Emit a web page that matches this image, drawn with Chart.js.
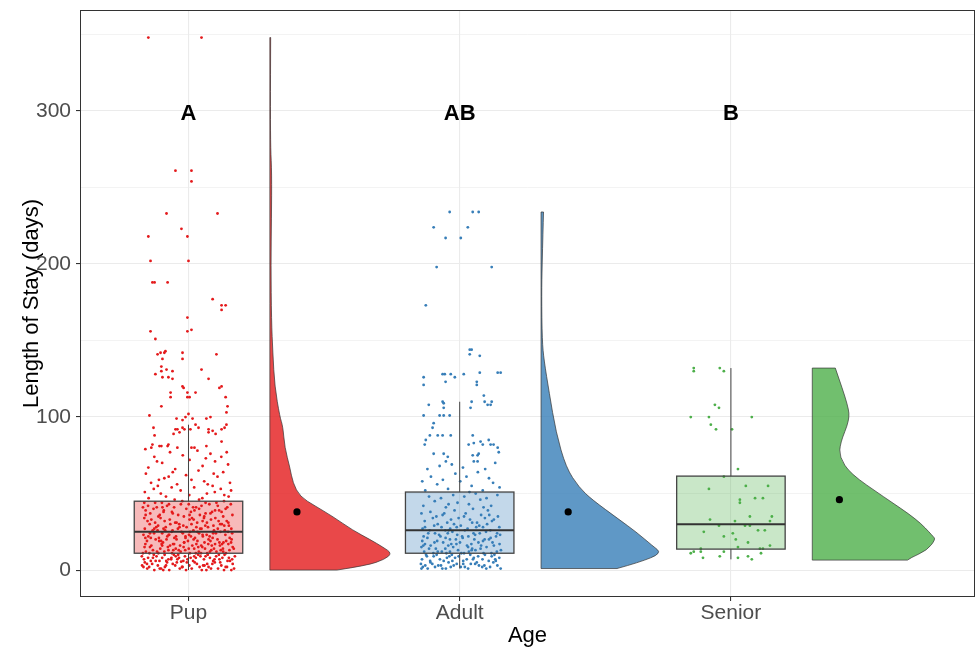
<!DOCTYPE html>
<html>
<head>
<meta charset="utf-8">
<script src="https://cdn.jsdelivr.net/npm/chart.js@4.4.1/dist/chart.umd.min.js"></script>
<style>
html, body { margin: 0; padding: 0; background: #fff; }
canvas { display: block; }
</style>
</head>
<body>
<canvas id="rain" width="977" height="649"></canvas>
<script>
// categories and labels
const AGE_GROUPS = ['Pup', 'Adult', 'Senior'];
const LETTERS = ['A', 'AB', 'B'];
const LETTER_Y = 298;
const Y_TICKS = [0, 50, 100, 150, 200, 250, 300, 350];

// group means (black dots)
const MEANS = [38, 38, 46];

// boxplots: [lower whisker, q1, median, q3, upper whisker]
const pupBox = [0, 11, 25, 45, 95];
const adultBox = [1, 11, 26, 51, 110];
const seniorBox = [7, 13.7, 30, 61.4, 132];

// half violins: value along y and half width (in category units)
const pupViolinY = [0, 3, 7, 11, 15, 20, 26, 35, 42, 48, 57, 67, 80, 94, 100, 120, 142, 163, 200, 230, 260, 275, 300, 348];
const pupViolinW = [0.247, 0.358, 0.424, 0.45, 0.417, 0.369, 0.306, 0.232, 0.166, 0.111, 0.085, 0.074, 0.055, 0.048, 0.037, 0.018, 0.011, 0.006, 0.004, 0.006, 0.007, 0.003, 0.002, 0.003];
const adultViolinY = [1, 5, 11, 16, 25, 33, 46, 54, 67, 90, 116, 137, 150, 180, 200, 220, 234];
const adultViolinW = [0.28, 0.362, 0.446, 0.41, 0.35, 0.288, 0.188, 0.14, 0.092, 0.055, 0.03, 0.011, 0.004, 0.002, 0.004, 0.007, 0.009];
const seniorViolinY = [6.5, 8, 13, 20, 22, 33, 48, 63, 74, 83, 98, 107, 132];
const seniorViolinW = [0.351, 0.362, 0.424, 0.454, 0.446, 0.387, 0.262, 0.14, 0.1, 0.103, 0.137, 0.133, 0.085];

// jittered raw points: [horizontal jitter, days]
const pupPoints = [
  [-0.148,348],[0.048,348],[-0.048,261],[0.011,261],[0.011,254],[-0.081,233],[0.107,233],[-0.026,223],[-0.148,218],[-0.004,218],
  [-0.140,202],[0.000,202],[-0.133,188],[-0.125,188],[-0.077,188],[0.089,177],[0.122,173],[0.137,173],[0.122,170],[-0.004,165],
  [-0.140,156],[-0.004,156],[0.011,157],[-0.122,151],[-0.114,141],[-0.103,142],[-0.089,142],[-0.085,143],[-0.022,142],[0.103,141],
  [-0.022,138],[-0.096,138],[-0.100,133],[-0.081,131],[-0.100,130],[-0.059,130],[-0.122,128],[0.048,131],[-0.096,126],[-0.074,126],
  [-0.059,125],[0.074,125],[-0.022,120],[-0.018,119],[0.114,119],[0.122,120],[-0.066,116],[-0.004,116],[0.026,116],[-0.066,113],
  [-0.004,113],[0.004,113],[0.137,113],[-0.100,107],[0.144,107],[0.140,103],[-0.144,101],[0.000,102],[-0.044,99],[-0.022,98],
  [-0.011,100],[0.015,99],[0.066,99],[0.081,100],[0.140,95],[-0.129,93],[-0.048,92],[-0.041,92],[-0.022,93],[-0.015,92],
  [0.007,92],[0.026,95],[0.037,93],[0.074,92],[0.074,90],[0.089,91],[0.100,89],[0.122,92],[0.133,93],[-0.055,89],
  [-0.033,90],[-0.125,88],[0.122,84],[-0.133,82],[-0.137,80],[-0.107,81],[-0.100,81],[-0.077,81],[-0.074,82],[-0.041,80],
  [0.011,80],[0.022,80],[0.066,81],
  [-0.152,1],[-0.113,3],[-0.071,0],[-0.024,2],[0.031,4],[0.083,1],[0.121,3],[0.158,0],[-0.134,4],[-0.087,2],[-0.043,5],[0.012,1],
  [0.054,3],[0.097,5],[0.142,2],[-0.171,3],[-0.126,0],[-0.058,4],[0.003,3],[0.066,0],[0.109,1],[0.163,4],[-0.145,2],[-0.079,5],
  [-0.009,0],[0.041,2],[0.088,4],[0.131,0],[-0.161,5],[-0.101,1],[-0.049,3],[0.023,5],[0.074,2],[0.168,1],[-0.032,1],[0.117,5],
  [-0.093,0],[0.049,0],
  [-0.164,7],[-0.118,9],[-0.082,6],[-0.035,8],[0.017,6],[0.063,9],[0.114,7],[0.149,8],[-0.139,6],[-0.097,8],[-0.054,10],[-0.004,7],
  [0.044,9],[0.091,6],[0.133,10],[-0.172,9],[-0.107,6],[-0.063,8],[-0.013,9],[0.057,7],[0.102,9],[0.144,6],[-0.128,10],[-0.074,7],
  [-0.019,6],[0.036,10],[0.079,8],[0.161,7],[-0.149,8],[-0.088,10],[-0.041,7],[0.008,8],[0.071,10],[0.125,8],[0.171,9],[-0.027,5.5],
  [-0.157,12],[-0.104,14],[-0.061,11],[-0.012,13],[0.038,12],[0.094,14],[0.138,11],[-0.131,13],[-0.076,15],[-0.029,12],[0.021,14],
  [0.069,11],[0.119,13],[0.163,15],[-0.168,11],[-0.116,12],[-0.047,14],[0.005,11],[0.051,15],[0.103,12],[0.151,13],[-0.142,15],
  [-0.089,12],[-0.018,15],[0.027,11],[0.084,13],[0.127,14],[-0.111,11],[-0.036,13],[0.061,14],
  [-0.159,17],[-0.108,19],[-0.068,16],[-0.016,18],[0.029,17],[0.081,19],[0.116,16],[0.157,18],[-0.137,16],[-0.094,18],[-0.044,20],
  [0.014,16],[0.059,18],[0.107,20],[0.147,17],[-0.121,20],[-0.057,17],[-0.002,19],[0.047,16],[0.098,17],[0.139,19],[-0.153,19],
  [-0.081,20],[-0.031,16],[0.019,20],[0.073,17],[0.129,18],[-0.099,17],
  [-0.148,22],[-0.097,24],[-0.052,21],[0.002,23],[0.053,22],[0.101,24],[0.152,21],[-0.127,24],[-0.078,22],[-0.026,25],[0.024,21],
  [0.067,23],[0.118,25],[-0.166,23],[-0.109,21],[-0.062,25],[-0.011,22],[0.039,24],[0.089,21],[0.136,23],[-0.139,21],[-0.071,23],
  [0.033,25],[0.078,22],[0.161,24],[-0.021,24],
  [-0.161,27],[-0.112,29],[-0.059,26],[-0.007,28],[0.043,27],[0.092,29],[0.134,26],[-0.132,26],[-0.084,28],[-0.034,30],[0.018,26],
  [0.072,28],[0.123,30],[0.158,27],[-0.143,30],[-0.092,27],[-0.039,27],[0.011,30],[0.062,29],[0.108,27],[0.149,29],[-0.119,28],
  [-0.151,32],[-0.103,34],[-0.049,31],[0.004,33],[0.052,32],[0.099,34],[0.147,31],[-0.123,31],[-0.069,33],[-0.017,35],[0.032,31],
  [0.083,33],[0.128,35],[-0.163,34],[-0.088,32],[0.058,35],[0.111,32],[0.013,34],
  [-0.141,37],[-0.091,39],[-0.038,36],[0.009,38],[0.063,37],[0.113,39],[0.162,36],[-0.158,39],[-0.106,36],[-0.061,38],[-0.008,40],
  [0.042,36],[0.087,38],[0.137,40],[-0.129,40],[0.022,39],
  [-0.149,42],[-0.098,44],[-0.053,41],[0.001,43],[0.048,42],[0.103,44],[0.143,41],[-0.117,41],[-0.072,43],[-0.023,45],[0.028,41],
  [0.077,43],[0.131,45],[-0.163,44],
  [-0.147,47],[-0.102,50],[-0.051,46],[0.003,49],[0.051,47],[0.097,51],[0.148,48],[-0.128,53],[-0.083,48],[-0.029,52],[0.021,54],
  [0.068,50],[0.119,53],[-0.161,51],[-0.113,55],[0.039,46],[0.089,55],[0.157,52],[-0.062,54],[0.132,49],
  [-0.138,57],[-0.089,60],[-0.042,56],[0.011,59],[0.058,58],[0.107,61],[0.153,57],[-0.157,63],[-0.109,59],[-0.058,64],[-0.009,62],
  [0.037,65],[0.093,63],[0.128,64],[-0.073,61],[0.071,56],
  [-0.148,67],[-0.097,70],[-0.049,66],[0.004,72],[0.052,68],[0.098,71],[0.146,69],[-0.126,74],[-0.068,77],[-0.021,75],[0.033,78],
  [0.081,76],[0.121,74],[-0.159,79],[-0.116,71],[0.064,73],[0.141,77],
  [-0.166,2],[-0.121,6],[-0.083,3],[-0.047,9],[-0.006,5],[0.027,8],[0.069,4],[0.112,10],[0.153,6],[-0.144,11],[-0.097,16],
  [-0.056,13],[-0.016,18],[0.036,15],[0.079,12],[0.124,17],[0.167,14],[-0.159,21],[-0.114,26],[-0.073,23],[-0.033,28],[0.009,22],
  [0.048,27],[0.091,24],[0.132,29],[-0.137,33],[-0.092,38],[-0.044,31],[0.004,36],[0.057,34],[0.098,39],[0.141,32],[-0.168,41],
  [-0.123,44],[-0.079,42],[-0.028,43],[0.017,41],[0.063,44],[0.108,42],[0.156,43],
  [-0.153,4],[-0.106,1],[-0.064,7],[-0.022,2],[0.021,9],[0.059,3],[0.096,7],[0.137,2],[-0.131,8],[-0.074,13],[-0.038,10],
  [0.001,14],[0.046,11],[0.086,16],[0.128,12],[-0.162,15],[-0.101,19],[-0.053,17],[-0.011,21],[0.033,19],[0.074,20],[0.114,18],
  [0.159,20],[-0.142,24],[-0.086,26],[-0.046,22],[0.006,25],[0.052,23],[0.094,26],[0.146,25],[-0.126,27],[-0.067,30],[-0.019,29],
  [0.029,28],[0.068,31],[0.117,30],[-0.158,36],[-0.111,35],[-0.058,37],[0.019,33],[0.081,37],[0.122,38],[-0.096,41],[0.039,40]
];

const adultPoints = [
  [-0.037,234],[0.048,234],[0.070,234],[-0.096,224],[0.030,224],[-0.052,217],[0.004,217],[-0.085,198],[0.118,198],[-0.125,173],
  [0.037,144],[0.044,144],[0.037,141],[0.074,140],[-0.133,126],[-0.063,128],[-0.055,128],[-0.033,128],[-0.018,126],[0.015,128],
  [0.074,129],[0.140,129],[0.151,129],[-0.133,121],[-0.052,123],[0.063,123],[0.063,121],[0.089,114],[-0.114,108],[-0.063,110],
  [-0.059,109],[0.044,110],[0.092,110],[0.103,108],[0.114,108],[0.118,110],[-0.059,106],[0.040,106],[-0.133,101],[-0.074,101],
  [-0.059,101],[-0.037,101],
  [-0.096,96],[-0.100,93],[-0.081,88],[-0.110,88],[-0.063,88],[-0.033,88],[-0.125,85],[-0.129,82],[-0.096,76],[-0.059,76],
  [-0.044,74],[0.048,88],[0.052,83],[0.077,84],[0.085,82],[0.107,85],[0.114,82],[0.125,82],[0.140,80],[0.144,77],
  [0.070,76],[0.066,75],[0.033,82],[0.048,75],[0.052,71],[0.066,71],
  [-0.136,2],[-0.101,4],[-0.064,1],[-0.022,3],[0.019,2],[0.057,4],[0.098,1],[0.139,3],[-0.118,1],[-0.079,3],[-0.041,5],[0.004,2],
  [0.041,4],[0.083,2],[0.124,5],[-0.143,4],[-0.091,2],[-0.051,1],[-0.011,4],[0.031,1],[0.071,3],[0.112,2],[0.151,1],[-0.127,3],
  [-0.033,2],[0.063,5],
  [-0.139,7],[-0.096,9],[-0.059,6],[-0.017,8],[0.026,7],[0.068,9],[0.107,6],[0.146,8],[-0.121,9],[-0.073,7],[-0.029,10],[0.013,6],
  [0.052,8],[0.093,10],[0.131,7],[-0.109,6],[-0.047,8],[-0.004,9],[0.039,10],[0.084,7],[0.118,9],[-0.085,10],
  [-0.131,12],[-0.088,14],[-0.049,11],[-0.006,13],[0.034,12],[0.077,14],[0.117,11],[0.152,13],[-0.113,14],[-0.066,12],[-0.024,15],
  [0.016,11],[0.058,13],[0.099,15],[0.137,12],[-0.141,15],[-0.036,12],[0.046,14],[-0.097,11],
  [-0.128,17],[-0.083,19],[-0.042,16],[0.001,18],[0.043,17],[0.086,19],[0.126,16],[-0.107,16],[-0.061,18],[-0.014,20],[0.027,16],
  [0.069,18],[0.108,20],[0.147,17],[-0.138,19],[-0.031,17],[0.054,20],
  [-0.133,22],[-0.091,24],[-0.052,21],[-0.009,23],[0.032,22],[0.074,24],[0.114,21],[0.149,23],[-0.116,24],[-0.071,22],[-0.027,25],
  [0.011,21],[0.057,23],[0.097,25],[0.134,22],[-0.044,24],
  [-0.137,27],[-0.094,29],[-0.053,26],[-0.011,28],[0.029,27],[0.072,29],[0.113,26],[0.146,28],[-0.111,26],[-0.067,28],[-0.021,30],
  [0.019,26],[0.061,28],[0.101,30],[-0.035,27],
  [-0.129,32],[-0.086,35],[-0.046,31],[-0.004,34],[0.038,33],[0.079,36],[0.119,32],[-0.108,38],[-0.063,36],[-0.019,39],[0.022,37],
  [0.064,31],[0.104,39],[0.141,35],[-0.141,37],[0.049,40],[-0.032,33],[0.093,34],
  [-0.134,42],[-0.092,45],[-0.051,41],[-0.008,44],[0.034,43],[0.076,46],[0.116,42],[-0.113,48],[-0.069,47],[-0.024,49],[0.017,48],
  [0.059,50],[0.099,47],[0.139,49],[-0.041,43],[0.088,41],
  [-0.127,52],[-0.083,56],[-0.043,53],[0.002,58],[0.044,55],[0.085,52],[0.123,57],[-0.106,61],[-0.062,59],[-0.016,63],[0.025,61],
  [0.067,64],[0.108,60],[0.147,54],[-0.138,58],[0.036,51],
  [-0.119,66],[-0.074,68],[-0.029,69],[0.012,67],[0.094,66],[0.131,70],[-0.051,71],
  [-0.141,1],[-0.108,5],[-0.069,3],[-0.027,6],[0.013,4],[0.049,7],[0.091,3],[0.133,6],[-0.124,10],[-0.081,12],[-0.038,9],
  [0.006,11],[0.044,13],[0.088,11],[0.128,10],[-0.134,16],[-0.093,18],[-0.053,14],[-0.012,17],[0.031,15],[0.079,16],[0.121,18],
  [-0.119,21],[-0.076,23],[-0.036,20],[0.009,22],[0.051,24],[0.092,20],[0.138,24],[-0.128,28],[-0.081,30],[-0.041,26],[0.004,29],
  [0.046,31],[0.086,28],[0.126,33],[-0.099,34],[-0.057,37],[0.016,35],[0.109,36]
];

const seniorPoints = [
  [-0.137,132],[-0.137,130],[-0.041,132],[-0.026,130],[-0.059,108],[-0.044,106],[-0.148,100],[-0.081,100],[0.077,100],[-0.074,95],
  [-0.055,92],[0.004,92],[0.026,66],[-0.026,61],[-0.081,53],[0.055,55],[0.137,55],[0.033,46],[0.033,44],[0.089,47],
  [0.118,47],[0.070,35],[0.151,35],[-0.077,33],[0.015,32],[0.144,32],[-0.044,29],[0.052,29],[0.070,29],[0.100,26],
  [0.125,26],[-0.100,25],[0.007,24],[-0.026,22],[0.018,20],[0.063,18],[0.144,16],[0.026,15],[0.118,14],[0.107,14],
  [-0.111,14],[-0.137,12],[-0.148,11],[-0.111,12],[-0.026,12],[0.111,11],[-0.103,8],[-0.041,9],[0.026,8],[0.063,9],
  [0.077,7]
];

const FONT = '"Liberation Sans", Arial, sans-serif';
const SOLID = ['#E41A1C', '#377EB8', '#4DAF4A'];
const VIOLIN_FILL = ['rgba(228,26,28,0.8)', 'rgba(55,126,184,0.8)', 'rgba(77,175,74,0.8)'];
const BOX_FILL = ['rgba(228,26,28,0.3)', 'rgba(55,126,184,0.3)', 'rgba(77,175,74,0.3)'];

const boxes = [pupBox, adultBox, seniorBox];
const violins = [[pupViolinY, pupViolinW], [adultViolinY, adultViolinW], [seniorViolinY, seniorViolinW]];
const pointSets = [pupPoints, adultPoints, seniorPoints];

const rainCloud = {
  id: 'rainCloud',
  beforeDatasetsDraw(chart) {
    const ctx = chart.ctx, xs = chart.scales.x, ys = chart.scales.y;
    ctx.save();
    violins.forEach(([vy, vw], i) => {
      const cat = i + 1;
      const base = xs.getPixelForValue(cat + 0.3);
      const pts = vy.map((v, k) => [xs.getPixelForValue(cat + 0.3 + vw[k]), ys.getPixelForValue(v)]);
      ctx.beginPath();
      ctx.moveTo(base, pts[0][1]);
      ctx.lineTo(pts[0][0], pts[0][1]);
      for (let k = 1; k < pts.length - 1; k++) {
        const mx = (pts[k][0] + pts[k + 1][0]) / 2;
        const my = (pts[k][1] + pts[k + 1][1]) / 2;
        ctx.quadraticCurveTo(pts[k][0], pts[k][1], mx, my);
      }
      const last = pts[pts.length - 1];
      ctx.lineTo(last[0], last[1]);
      ctx.lineTo(base, last[1]);
      ctx.closePath();
      ctx.fillStyle = VIOLIN_FILL[i];
      ctx.fill();
      ctx.strokeStyle = '#333';
      ctx.lineWidth = 0.7;
      ctx.stroke();
    });
    ctx.restore();
  },
  afterDatasetsDraw(chart) {
    const ctx = chart.ctx, xs = chart.scales.x, ys = chart.scales.y;
    const area = chart.chartArea;
    ctx.save();
    boxes.forEach((b, i) => {
      const cat = i + 1;
      const xc = xs.getPixelForValue(cat);
      const xl = xs.getPixelForValue(cat - 0.2);
      const xr = xs.getPixelForValue(cat + 0.2);
      const [lo, q1, med, q3, hi] = b.map(v => ys.getPixelForValue(v));
      ctx.strokeStyle = '#444';
      ctx.lineWidth = 1;
      ctx.beginPath();
      ctx.moveTo(xc, lo); ctx.lineTo(xc, q1);
      ctx.moveTo(xc, q3); ctx.lineTo(xc, hi);
      ctx.stroke();
      ctx.fillStyle = BOX_FILL[i];
      ctx.fillRect(xl, q3, xr - xl, q1 - q3);
      ctx.lineWidth = 1.3;
      ctx.strokeRect(xl, q3, xr - xl, q1 - q3);
      ctx.strokeStyle = '#333';
      ctx.lineWidth = 2;
      ctx.beginPath();
      ctx.moveTo(xl, med); ctx.lineTo(xr, med);
      ctx.stroke();
    });
    // significance letters
    ctx.fillStyle = '#000';
    ctx.font = 'bold 22px ' + FONT;
    ctx.textAlign = 'center';
    ctx.textBaseline = 'middle';
    LETTERS.forEach((t, i) => {
      ctx.fillText(t, xs.getPixelForValue(i + 1), ys.getPixelForValue(LETTER_Y));
    });
    // panel border
    ctx.strokeStyle = '#333';
    ctx.lineWidth = 1;
    ctx.strokeRect(area.left + 0.5, area.top + 0.5, area.right - area.left - 1, area.bottom - area.top - 1);
    ctx.restore();
  }
};

const datasets = pointSets.map((pts, i) => ({
  label: AGE_GROUPS[i],
  data: pts.map(p => ({ x: i + 1 + p[0], y: p[1] })),
  backgroundColor: SOLID[i],
  borderWidth: 0,
  pointRadius: 1.4
}));
datasets.push({
  label: 'mean',
  data: MEANS.map((m, i) => ({ x: i + 1.4, y: m })),
  backgroundColor: '#000',
  borderWidth: 0,
  pointRadius: 3.6
});

new Chart(document.getElementById('rain'), {
  type: 'scatter',
  data: { datasets },
  plugins: [rainCloud],
  options: {
    responsive: false,
    animation: false,
    devicePixelRatio: 1,
    layout: { autoPadding: false, padding: { top: 10, right: 2, left: 0, bottom: 0 } },
    plugins: { legend: { display: false }, tooltip: { enabled: false } },
    scales: {
      x: {
        type: 'linear',
        min: 0.6,
        max: 3.9,
        afterBuildTicks: s => { s.ticks = [1, 2, 3].map(v => ({ value: v })); },
        afterFit: s => { s.height = 52; s.paddingLeft = 0; s.paddingRight = 0; },
        ticks: {
          callback: v => AGE_GROUPS[v - 1],
          color: '#4D4D4D',
          font: { family: FONT, size: 21 },
          padding: 0,
          maxRotation: 0,
          autoSkip: false
        },
        grid: { color: '#EBEBEB', lineWidth: 1.1, tickLength: 4, tickColor: '#333' },
        border: { display: false },
        title: { display: true, text: 'Age', color: '#000', font: { family: FONT, size: 22 }, padding: { top: 0, bottom: 0 } }
      },
      y: {
        min: -17.6,
        max: 366,
        afterBuildTicks: s => { s.ticks = Y_TICKS.map(v => ({ value: v })); },
        afterFit: s => { s.width = 80; s.paddingTop = 0; s.paddingBottom = 0; },
        ticks: {
          callback: v => (v % 100 === 0 ? String(v) : ''),
          color: '#4D4D4D',
          font: { family: FONT, size: 21 },
          padding: 5,
          autoSkip: false
        },
        grid: {
          color: '#EBEBEB',
          lineWidth: c => (c.tick && c.tick.value % 100 === 0 ? 1.1 : 0.6),
          tickLength: 4,
          tickColor: c => (c.tick && c.tick.value % 100 === 0 ? '#333' : 'rgba(0,0,0,0)')
        },
        border: { display: false },
        title: { display: true, text: 'Length of Stay (days)', color: '#000', font: { family: FONT, size: 22 }, padding: { top: 19, bottom: 0 } }
      }
    }
  }
});
</script>
</body>
</html>
